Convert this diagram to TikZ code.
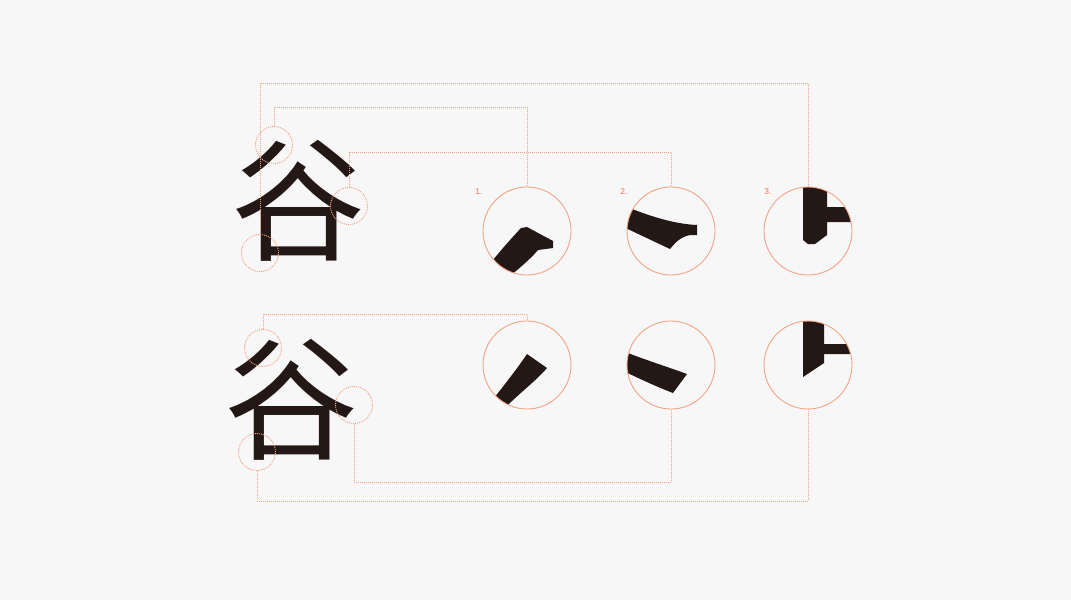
\documentclass[tikz,border=0pt]{standalone}
\usepackage{fontspec}
\usepackage{tikz}
\usetikzlibrary{calc}
\newfontfamily\cjk{Noto Sans CJK SC}
\newfontfamily\rotulo{Liberation Sans}
\definecolor{fondo}{HTML}{F7F7F7}
\definecolor{tinta}{HTML}{231815}
\definecolor{naranja}{HTML}{F4A384}
\definecolor{naranja2}{HTML}{EE7650}
\tikzset{
  lente/.style={circle,draw=naranja,line width=0.9pt,inner sep=0pt,minimum size=88pt},
  marca/.style={circle,draw=naranja,line width=0.9pt,dash pattern=on 1pt off 1pt,inner sep=0pt,minimum size=37pt},
  enlace/.style={draw=naranja,line width=0.9pt,dash pattern=on 1pt off 1pt},
  trazo/.style={fill=tinta},
  glifo/.style={inner sep=0pt,text=tinta,font=\cjk\fontsize{134}{134}\selectfont},
  numero/.style={inner sep=0pt,text=naranja2,font=\rotulo\fontsize{8.5}{8.5}\selectfont},
}

\begin{document}
\begin{tikzpicture}[x=1pt,y=-1pt]
\fill[fondo] (0,0) rectangle (1071,600);
\useasboundingbox (0,0) rectangle (1071,600);
\coordinate (c1) at (527,231);
\coordinate (c2) at (671,231);
\coordinate (c3) at (808,231);
\coordinate (c4) at (527,365);
\coordinate (c5) at (671,365);
\coordinate (c6) at (808,365);
% the two characters
\node[glifo] (g1) at (298,201) {谷};
\node[glifo] (g2) at (291,400) {谷};
% enlarged strokes
\begin{scope}
\clip (c1) circle (44pt);
\fill[trazo] (470,290) .. controls (490,262) and (508,242) .. (521,228) -- (527,227) -- (553,241) -- (553,248) -- (538,250) .. controls (528,262) and (510,276) .. (492,290) -- cycle;
\end{scope}
\begin{scope}
\clip (c2) circle (44pt);
\fill[trazo] (615,202) .. controls (650,217) and (675,224) .. (697,225) -- (697,235) -- (690,235) .. controls (680,237) and (675,243) .. (670,249) -- (615,223) -- cycle;
\end{scope}
\begin{scope}
\clip (c3) circle (44pt);
\fill[trazo] (803,180) -- (803,240) -- (808,244) -- (815,244) -- (827,235) -- (827,222) -- (860,222) -- (860,207) -- (827,207) -- (827,180) -- cycle;
\end{scope}
\begin{scope}
\clip (c4) circle (44pt);
\fill[trazo] (527,354) -- (547,368) .. controls (535,382) and (518,394) .. (503,410) -- (485,410) .. controls (500,390) and (515,372) .. (527,354) -- cycle;
\end{scope}
\begin{scope}
\clip (c5) circle (44pt);
\fill[trazo] (615,348) .. controls (645,360) and (668,367) .. (687,374) -- (673,393) .. controls (655,386) and (640,379) .. (615,367) -- cycle;
\end{scope}
\begin{scope}
\clip (c6) circle (44pt);
\fill[trazo] (803,310) -- (803,377) -- (824,363) -- (824,354) -- (860,354) -- (860,344) -- (824,344) -- (824,310) -- cycle;
\end{scope}
% lenses
\node[lente] (l1) at (c1) {};
\node[lente] (l2) at (c2) {};
\node[lente] (l3) at (c3) {};
\node[lente] (l4) at (c4) {};
\node[lente] (l5) at (c5) {};
\node[lente] (l6) at (c6) {};
% marks on the characters
\node[marca] (m1) at (274,145) {};
\node[marca] (m2) at (349,206) {};
\node[marca] (m3) at (260,253) {};
\node[marca] (m4) at (263,348) {};
\node[marca] (m5) at (354,405) {};
\node[marca] (m6) at (257,452) {};
% links
\coordinate (y1) at (0,107);
\coordinate (y2) at (0,152);
\coordinate (y3) at (0,83);
\coordinate (y4) at (0,314);
\coordinate (y5) at (0,482);
\coordinate (y6) at (0,501);
\draw[enlace] (m1.north) -- (m1.north |- y1) -| (l1.north);
\draw[enlace] (m2.north) -- (m2.north |- y2) -| (l2.north);
\draw[enlace] (m3.north) -- (m3.north |- y3) -| (l3.north);
\draw[enlace] (m4.north) -- (m4.north |- y4) -| (l4.north);
\draw[enlace] (m5.south) -- (m5.south |- y5) -| (l5.south);
\draw[enlace] (m6.south) -- (m6.south |- y6) -| (l6.south);
% numbers
\node[numero] (n1) at (479,192) {1.};
\node[numero] (n2) at (624,192) {2.};
\node[numero] (n3) at (768,192) {3.};
\end{tikzpicture}
\end{document}
